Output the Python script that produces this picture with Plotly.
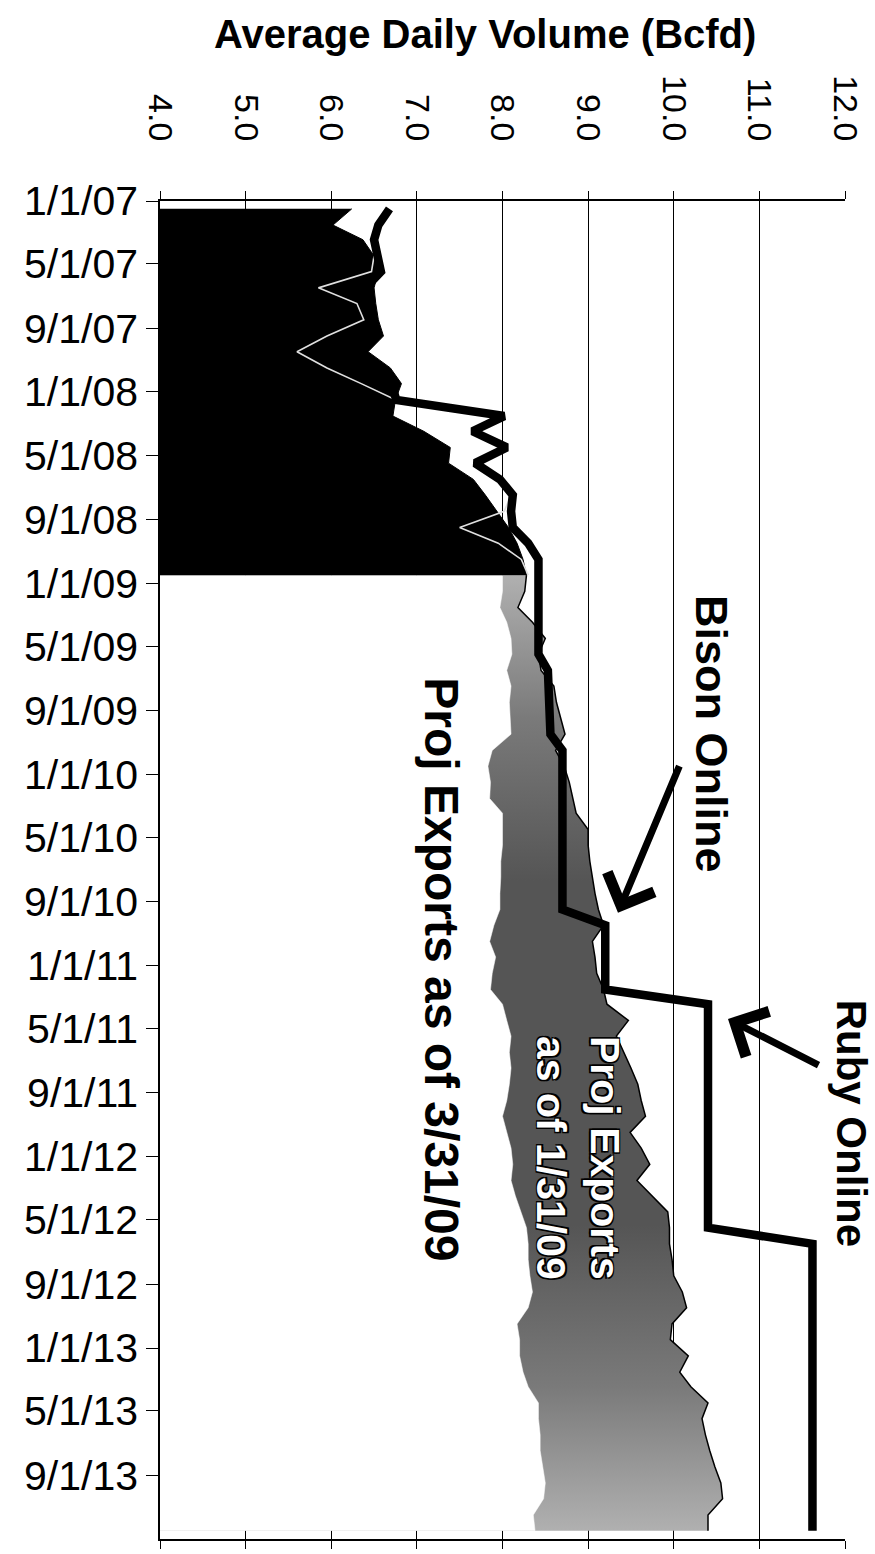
import pandas as pd
import plotly.graph_objects as go

# ---- data (Bcfd) ----
hist_start = "2007-01-01"
hist_exports = [6.24, 6.02, 6.37, 6.50, 6.55, 6.50, 6.52, 6.55, 6.61, 6.43, 6.69, 6.82,
                6.75, 6.72, 7.08, 7.39, 7.37, 7.66, 7.80, 7.94, 8.07, 8.17, 8.24, 8.28]

thin_start = "2007-04-01"
hist_flow = [6.50, 6.47, 5.85, 6.30, 6.38, 5.95, 5.60, 5.95, 6.35,
             6.75, 7.98, 7.65, 8.02, 7.68, 7.95, 8.10, 8.02, 7.50, 7.95, 8.22, 8.30]

cap_start = "2007-01-01"
capacity = ([6.68, 6.55, 6.50, 6.55, 6.58, 6.40, 6.40, 6.45, 6.50, 6.30, 6.55, 6.70] +
            [6.76, 8.02, 7.65, 8.05, 7.68, 7.97, 8.12, 8.10, 8.12, 8.30, 8.42, 8.42] +
            [8.42, 8.42, 8.42, 8.42, 8.42, 8.53, 8.54, 8.55, 8.55, 8.56, 8.70, 8.70] +
            [8.70] * 9 + [9.20, 9.20, 9.20] +
            [9.20, 9.20] + [10.40] * 10 +
            [10.40] * 5 + [11.62] * 7 +
            [11.62] * 12)

proj_start = "2008-12-01"
proj_jan09 = [8.28,
              8.26, 8.18, 8.35, 8.50, 8.42, 8.45, 8.60, 8.63, 8.68, 8.73, 8.62, 8.72,
              8.78, 8.82, 8.86, 9.00, 9.00, 9.02, 9.05, 9.08, 9.12, 9.18, 9.05, 9.08,
              9.10, 9.18, 9.22, 9.47, 9.33, 9.42, 9.50, 9.58, 9.62, 9.67, 9.49, 9.62,
              9.72, 9.57, 9.75, 9.93, 9.95, 9.95, 9.98, 10.00, 10.10, 10.15, 9.98, 9.96,
              10.17, 10.07, 10.20, 10.40, 10.33, 10.37, 10.42, 10.48, 10.55, 10.57, 10.40, 10.40]
proj_mar09 = [8.00,
              8.00, 7.97, 8.05, 8.10, 8.11, 8.05, 8.10, 8.08, 8.09, 8.10, 7.88, 7.83,
              7.86, 7.85, 8.00, 8.00, 8.00, 7.98, 7.98, 7.97, 7.97, 7.90, 7.85, 7.92,
              7.88, 7.86, 8.00, 8.05, 8.10, 8.08, 8.10, 8.08, 8.05, 8.00, 8.05, 8.10,
              8.12, 8.10, 8.15, 8.22, 8.28, 8.30, 8.30, 8.32, 8.35, 8.30, 8.17, 8.20,
              8.20, 8.24, 8.30, 8.42, 8.42, 8.44, 8.44, 8.47, 8.50, 8.48, 8.36, 8.38]

tick_dates = pd.date_range("2007-01-01", "2013-09-01", freq="4MS")
tick_labels = [f"{d.month}/{d.day}/{d.strftime('%y')}" for d in tick_dates]


def monthly(start, n):
    # monthly values are plotted in the middle of their month
    return pd.date_range(start, periods=n, freq="MS") + pd.Timedelta(days=15)


FONT = "Liberation Sans, Arial, sans-serif"

fig = go.Figure()

# projected exports as of 1/31/09 (grey band, outlined on its right edge)
fig.add_trace(go.Scatter(
    x=proj_jan09, y=monthly(proj_start, len(proj_jan09)),
    mode="lines", fill="tozerox",
    line=dict(color="black", width=1.5),
    fillgradient=dict(type="vertical",
                      colorscale=[[0, "#b0b0b0"], [0.15, "#7a7a7a"], [0.32, "#555555"],
                                  [0.68, "#555555"], [0.85, "#7a7a7a"], [1, "#b0b0b0"]]),
    hoverinfo="skip"))

# projected exports as of 3/31/09 (white area laid over the grey one)
fig.add_trace(go.Scatter(
    x=proj_mar09, y=monthly(proj_start, len(proj_mar09)),
    mode="lines", fill="tozerox", fillcolor="white",
    line=dict(color="white", width=0.5), hoverinfo="skip"))

# historical exports
fig.add_trace(go.Scatter(
    x=hist_exports, y=monthly(hist_start, len(hist_exports)),
    mode="lines", fill="tozerox", fillcolor="black",
    line=dict(color="black", width=1), hoverinfo="skip"))

# historical flow line
fig.add_trace(go.Scatter(
    x=hist_flow, y=monthly(thin_start, len(hist_flow)),
    mode="lines", line=dict(color="#e0e0e0", width=1.6), hoverinfo="skip"))

# takeaway capacity
fig.add_trace(go.Scatter(
    x=capacity, y=monthly(cap_start, len(capacity)),
    mode="lines", line=dict(color="black", width=8.5), hoverinfo="skip"))

fig.update_layout(
    width=875, height=1554,
    margin=dict(l=160, r=30, t=201, b=5),
    plot_bgcolor="white", paper_bgcolor="white",
    showlegend=False,
    font=dict(family=FONT, color="black"),
)

fig.update_xaxes(
    range=[4, 12], side="top", tick0=4, dtick=1, tickformat=".1f",
    tickangle=90, tickfont=dict(size=34, family=FONT),
    showgrid=True, gridcolor="black", gridwidth=1.2,
    showline=True, linecolor="black", linewidth=1.5, mirror="ticks",
    ticks="outside", ticklen=8, tickcolor="black", tickwidth=1.2,
    ticklabelstandoff=38, zeroline=False,
)

fig.update_yaxes(
    type="date", range=["2014-01-01", "2007-01-01"],
    tickvals=tick_dates, ticktext=tick_labels,
    tickfont=dict(size=41, family=FONT),
    showgrid=False, showline=True, linecolor="black", linewidth=1.5,
    ticks="outside", ticklen=12, tickcolor="black", tickwidth=1.2,
    zeroline=False,
)

annotations = [
    dict(text="<b>Average Daily Volume (Bcfd)</b>", xref="paper", yref="paper",
         x=0.4745, y=1.1246, xanchor="center", yanchor="middle", showarrow=False,
         font=dict(size=40, family=FONT)),
    dict(text="<b>Bison Online</b>", xref="paper", yref="paper",
         x=0.806, y=0.6016, xanchor="center", yanchor="middle", showarrow=False,
         textangle=90, font=dict(size=45, family=FONT)),
    dict(text="", xref="paper", yref="paper", x=0.6686, y=0.4681,
         ax=62, ay=-148, showarrow=True, arrowhead=4, arrowsize=1.4,
         arrowwidth=7, arrowcolor="black"),
    dict(text="<b>Ruby Online</b>", xref="paper", yref="paper",
         x=1.0095, y=0.3108, xanchor="center", yanchor="middle", showarrow=False,
         textangle=90, font=dict(size=42, family=FONT)),
    dict(text="", xref="paper", yref="paper", x=0.8292, y=0.3887,
         ax=92, ay=47, showarrow=True, arrowhead=4, arrowsize=1.4,
         arrowwidth=7, arrowcolor="black"),
    dict(text="<b>Proj Exports as of 3/31/09</b>", xref="paper", yref="paper",
         x=0.4117, y=0.4258, xanchor="center", yanchor="middle", showarrow=False,
         textangle=90, font=dict(size=48, family=FONT)),
    dict(text="<b>Proj Exports<br>as of 1/31/09</b>", xref="paper", yref="paper",
         x=0.610, y=0.2849, xanchor="center", yanchor="middle", showarrow=False,
         textangle=90,
         font=dict(size=41, family=FONT, color="white",
                   shadow="1.5px 1.5px 0 #000, -1.5px -1.5px 0 #000, 1.5px -1.5px 0 #000, -1.5px 1.5px 0 #000")),
]
fig.update_layout(annotations=annotations)

fig.write_html("out.html")
